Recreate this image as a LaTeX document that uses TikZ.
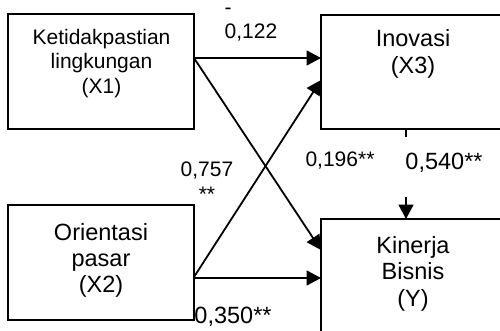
\documentclass[tikz,border=0pt]{standalone}
\usepackage{fontspec}
\setmainfont{Liberation Sans}
\usetikzlibrary{arrows.meta}
\begin{document}
\begin{tikzpicture}[x=1pt,y=-1pt,
  box/.style={draw, line width=1.8pt, rectangle, inner sep=0pt, outer sep=0pt, anchor=north west},
  lbl/.style={anchor=base, inner sep=0pt, font=\fontsize{21}{24}\selectfont},
  lblbig/.style={anchor=base, inner sep=0pt, font=\fontsize{23.5}{27}\selectfont},
  arr/.style={line width=1.8pt, -{Triangle[length=14.5pt,width=15pt]}},
  conn/.style={line width=1.8pt}]
\clip (0,0) rectangle (500,331);
% boxes
\node[box, minimum width=186pt, minimum height=115pt] (x1) at (8,14) {};
\node[box, minimum width=186pt, minimum height=115pt] (x2) at (8,205) {};
\node[box, minimum width=190pt, minimum height=114pt] (x3) at (321,15) {};
\node[box, minimum width=190pt, minimum height=125pt] (y) at (321,219) {};
% box texts
\node[lbl] (t1a) at (101.5,45) {Ketidakpastian};
\node[lbl] (t1b) at (101.5,69) {lingkungan};
\node[lbl] (t1c) at (101.5,94) {(X1)};
\node[lblbig] (t2a) at (101,240) {Orientasi};
\node[lblbig] (t2b) at (101,266) {pasar};
\node[lblbig] (t2c) at (101,292) {(X2)};
\node[lblbig] (t3a) at (413,47) {Inovasi};
\node[lblbig] (t3b) at (413,74) {(X3)};
\node[lblbig] (tya) at (413,253) {Kinerja};
\node[lblbig] (tyb) at (413,279) {Bisnis};
\node[lblbig] (tyc) at (413,306) {(Y)};
% connectors
\draw[arr] ([yshift=-44pt]x1.north east) -- ([yshift=-43pt]x3.north west);
\draw[arr] ([yshift=-44pt]x1.north east) -- ([yshift=-31pt]y.north west);
\draw[arr] ([yshift=-72pt]x2.north east) -- ([yshift=-65pt]x3.north west);
\draw[arr] ([yshift=-73pt]x2.north east) -- ([yshift=-59pt]y.north west);
\coordinate (tick) at (406,137);
\coordinate (vstart) at (406,197);
\draw[conn] ([xshift=85pt]x3.south west) -- (tick);
\draw[arr] (vstart) -- ([xshift=85pt]y.north west);
% labels
\node[lbl] (l0) at (228,15) {-};
\node[lbl] (l1) at (251,38.5) {0,122};
\node[lbl] (l2) at (207,177) {0,757};
\node[lbl] (l2b) at (207,201) {**};
\node[lbl] (l3) at (340,167) {0,196**};
\node[lblbig] (l4) at (444,169) {0,540**};
\node[lblbig] (l5) at (233,323) {0,350**};
\end{tikzpicture}
\end{document}
